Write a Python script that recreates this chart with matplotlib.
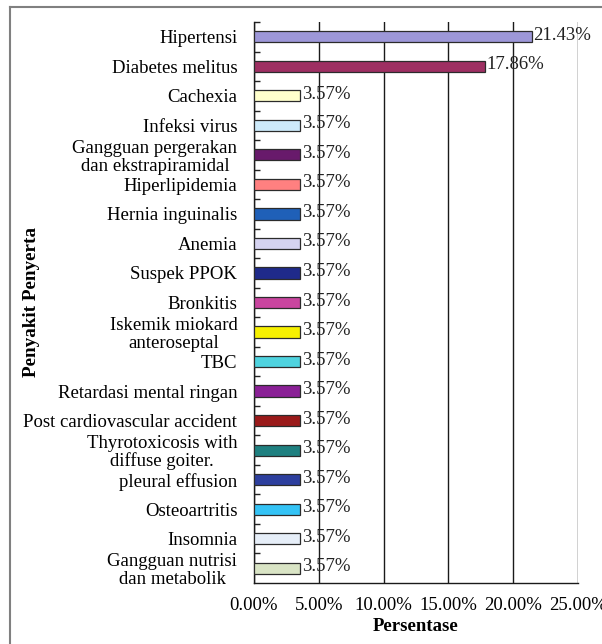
import matplotlib
matplotlib.use('Agg')
import matplotlib.pyplot as plt
from matplotlib.lines import Line2D
from matplotlib.ticker import FuncFormatter, FixedLocator

plt.rcParams['font.family'] = ['Liberation Serif', 'DejaVu Serif']

# data penyakit penyerta
categories = ['Hipertensi', 'Diabetes melitus', 'Cachexia', 'Infeksi virus',
              'Gangguan pergerakan\ndan ekstrapiramidal', 'Hiperlipidemia',
              'Hernia inguinalis', 'Anemia', 'Suspek PPOK', 'Bronkitis',
              'Iskemik miokard\nanteroseptal', 'TBC', 'Retardasi mental ringan',
              'Post cardiovascular accident', 'Thyrotoxicosis with\ndiffuse goiter.',
              'pleural effusion', 'Osteoartritis', 'Insomnia',
              'Gangguan nutrisi\ndan metabolik']
values = [21.43, 17.86, 3.57, 3.57, 3.57, 3.57, 3.57, 3.57, 3.57, 3.57,
          3.57, 3.57, 3.57, 3.57, 3.57, 3.57, 3.57, 3.57, 3.57]
labels = ['21.43%', '17.86%'] + ['3.57%'] * 17
colors = ['#9d97d8', '#9e2f62', '#ffffcc', '#cdeafa', '#681a6b', '#ff8080',
          '#1f60b8', '#d5d3f0', '#1f2a8a', '#c9459f', '#f6f000', '#4fd3df',
          '#8a2096', '#9a1a1a', '#1f8080', '#2d3f9e', '#34c3f5', '#e6eef8',
          '#d9e4c5']
xticks = [0, 5, 10, 15, 20, 25]

fs = 13.5

fig = plt.figure(figsize=(6.02, 6.44), dpi=100)
ax = fig.add_axes([254 / 602, 1 - 583 / 644, 324 / 602, 561 / 644])

y = list(range(len(categories)))
ax.barh(y, values, height=0.38, color=colors, edgecolor='#2b2b2b', linewidth=0.9, zorder=3)

for yi, v, lab in zip(y, values, labels):
    ax.text(v + 0.1, yi - 0.05, lab, ha='left', va='center', fontsize=fs, color='#222222', zorder=4)

ax.set_xlim(0, 25)
ax.set_ylim(len(categories) - 0.5, -0.5)
ax.set_xticks(xticks)
ax.xaxis.set_major_formatter(FuncFormatter(lambda x, p: '%.2f%%' % x))
ax.tick_params(axis='x', length=0, pad=10, labelsize=fs)
ax.grid(axis='x', color='#1a1a1a', linewidth=1.0, zorder=1)

ax.set_yticks(y)
ax.set_yticklabels(categories, fontsize=fs, multialignment='center', linespacing=1.05)
ax.tick_params(axis='y', length=0, pad=12)
ax.yaxis.set_minor_locator(FixedLocator([i - 0.5 for i in range(len(categories))]))
ax.tick_params(axis='y', which='minor', direction='in', length=4, width=1, color='#222222')

for s in ['top', 'right']:
    ax.spines[s].set_visible(False)
for s in ['left', 'bottom']:
    ax.spines[s].set_color('#1a1a1a')
    ax.spines[s].set_linewidth(1.0)

ax.set_xlabel('Persentase', fontsize=fs, fontweight='bold', labelpad=3)
fig.text(32 / 602, 1 - 302 / 644, 'Penyakit Penyerta', rotation=90, ha='center', va='center',
         fontsize=13.8, fontweight='bold')

# bingkai gambar
fig.add_artist(Line2D([10 / 602, 1.0], [1 - 7 / 644, 1 - 7 / 644], color='#808080', linewidth=1.5))
fig.add_artist(Line2D([10 / 602, 10 / 602], [1 - 7 / 644, 0.0], color='#808080', linewidth=1.5))

fig.savefig('out.png', dpi=100)
